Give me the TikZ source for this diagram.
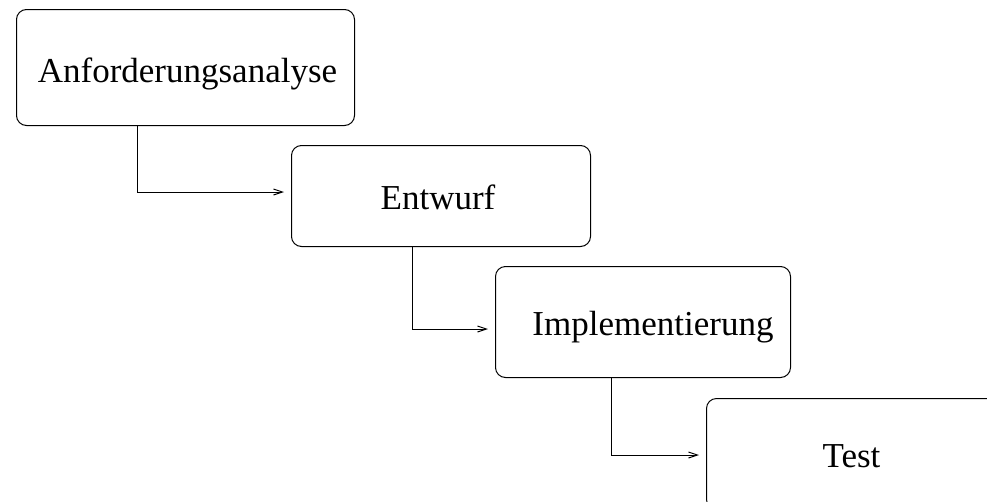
\documentclass[tikz,border=0pt]{standalone}
\usepackage{fontspec}
\setmainfont{Liberation Serif}
\usetikzlibrary{arrows.meta}
\begin{document}
\begin{tikzpicture}[x=1pt,y=-1pt,
  box/.style={draw=black,line width=1pt,rounded corners=10pt,inner sep=0pt,anchor=north west},
  lbl/.style={anchor=base,inner sep=0pt,font=\fontsize{35}{42}\selectfont},
  conn/.style={draw=black,line width=1pt,-{Straight Barb[length=9pt,width=6pt]},shorten >=7pt}]
\useasboundingbox (0,0) rectangle (987,501);
\clip (0,0) rectangle (987,501);
\node[box,minimum width=338pt,minimum height=116pt] (b1) at (16,9) {};
\node[box,minimum width=299pt,minimum height=101pt] (b2) at (291,145) {};
\node[box,minimum width=295pt,minimum height=111pt] (b3) at (495,266) {};
\node[box,minimum width=290pt,minimum height=111pt] (b4) at (706,398) {};
\node[lbl] (t1) at ([xshift=2pt,yshift=-15pt]b1.center) {Anforderungsanalyse};
\node[lbl] (t2) at ([xshift=-3pt,yshift=-13.5pt]b2.center) {Entwurf};
\node[lbl] (t3) at ([xshift=10pt,yshift=-13.5pt]b3.center) {Implementierung};
\node[lbl] (t4) at ([yshift=-13.5pt]b4.center) {Test};
\coordinate (k1) at (137,192);
\coordinate (k2) at (412,329);
\coordinate (k3) at (611,455);
\draw[conn] (b1.south -| k1) |- (k1 -| b2.west);
\draw[conn] (b2.south -| k2) |- (k2 -| b3.west);
\draw[conn] (b3.south -| k3) |- (k3 -| b4.west);
\end{tikzpicture}
\end{document}
